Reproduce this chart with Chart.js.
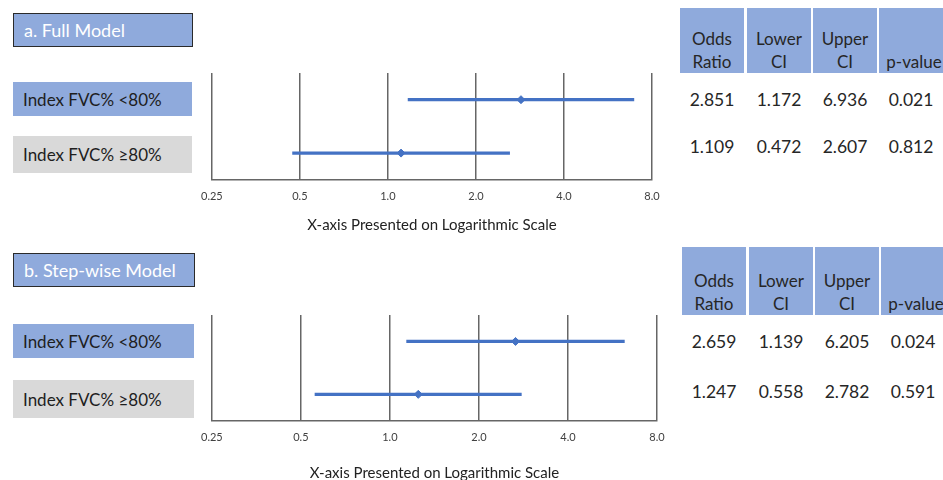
<!DOCTYPE html>
<html>
<head>
<meta charset="utf-8">
<script src="https://cdn.jsdelivr.net/npm/chart.js@4.4.1/dist/chart.umd.min.js"></script>
<style>
  body { margin: 0; width: 943px; height: 480px; overflow: hidden; background: #fff; font-family: Lato, "Open Sans", sans-serif; color: #222; }
  .box { position: absolute; box-sizing: border-box; display: flex; align-items: center; padding-left: 10px; white-space: nowrap; }
  .title { background: #8faadc; border: 1.5px solid #2a2a2a; color: #fff; font-size: 18px; }
  .row-blue { background: #8faadc; font-size: 17px; color: #1e1e1e; }
  .row-grey { background: #d9d9d9; font-size: 17px; color: #1e1e1e; }
  .hcell { position: absolute; box-sizing: border-box; background: #8faadc; display: flex; align-items: flex-end; justify-content: center; text-align: center; font-size: 17px; line-height: 23px; padding-bottom: 0; color: #262626; white-space: nowrap; }
  .vcell { position: absolute; text-align: center; font-size: 17.5px; line-height: 20px; color: #262626; }
  .plot { position: absolute; }
</style>
</head>
<body>
<div id="page"></div>
<div class="plot" style="left:191px; top:63px; width:481px; height:175px;"><canvas id="chartA"></canvas></div>
<div class="plot" style="left:191px; top:305px; width:486px; height:181px;"><canvas id="chartB"></canvas></div>
<script>
// data
var rowLabels = ['Index FVC% <80%', 'Index FVC% \u226580%'];
var fullOR    = [2.851, 1.109];
var fullLower = [1.172, 0.472];
var fullUpper = [6.936, 2.607];
var fullP     = ['0.021', '0.812'];
var stepOR    = [2.659, 1.247];
var stepLower = [1.139, 0.558];
var stepUpper = [6.205, 2.782];
var stepP     = ['0.024', '0.591'];
var tickValues = [0.25, 0.5, 1, 2, 4, 8];
var tickLabels = ['0.25', '0.5', '1.0', '2.0', '4.0', '8.0'];
var headers = ['Odds<br>Ratio', 'Lower<br>CI', 'Upper<br>CI', 'p-value'];

var page = document.getElementById('page');

function addDiv(cls, style, html) {
    var d = document.createElement('div');
    d.className = cls;
    d.style.cssText = style;
    d.innerHTML = html;
    page.appendChild(d);
}

// left side boxes
function panelBoxes(title, top, rowTops, rowHeights, width) {
    addDiv('box title', 'left:13px; top:' + top + 'px; width:' + width + 'px; height:34px;', title);
    addDiv('box row-blue', 'left:13px; top:' + rowTops[0] + 'px; width:' + (width - 1) + 'px; height:' + rowHeights[0] + 'px;', rowLabels[0].replace('<', '&lt;'));
    addDiv('box row-grey', 'left:13px; top:' + rowTops[1] + 'px; width:' + (width - 1) + 'px; height:' + rowHeights[1] + 'px;', rowLabels[1]);
}
panelBoxes('a. Full Model', 13, [82, 136], [34, 37], 180);
panelBoxes('b. Step-wise Model', 253, [324, 380], [34, 38], 182);

// right side tables
function panelTable(left, top, height, rowYs, cols) {
    var xs = [0, 67, 133, 199];
    for (var i = 0; i < headers.length; i++) {
        addDiv('hcell', 'left:' + (left + xs[i]) + 'px; top:' + top + 'px; width:' + (i == 3 ? 70 : 64) + 'px; height:' + height + 'px;', headers[i]);
    }
    for (var r = 0; r < 2; r++) {
        for (var c = 0; c < cols.length; c++) {
            var v = typeof cols[c][r] == 'number' ? cols[c][r].toFixed(3) : cols[c][r];
            addDiv('vcell', 'left:' + (left + xs[c]) + 'px; top:' + (rowYs[r] - 10) + 'px; width:64px;', v);
        }
    }
}
panelTable(680, 8, 65, [100, 147], [fullOR, fullLower, fullUpper, fullP]);
panelTable(682, 247, 68, [342, 392], [stepOR, stepLower, stepUpper, stepP]);

// forest plots
function forestChart(id, orVals, lower, upper, titlePad) {
    var ctx = document.getElementById(id).getContext('2d');
    return new Chart(ctx, {
        type: 'bar',
        data: {
            labels: rowLabels,
            datasets: [
                {
                    type: 'line',
                    data: orVals,
                    showLine: false,
                    pointStyle: 'rectRot',
                    pointRadius: 4,
                    backgroundColor: '#4472c4',
                    borderColor: '#4472c4',
                    borderWidth: 1,
                    order: 0
                },
                {
                    data: lower.map(function(l, i) { return [l, upper[i]]; }),
                    backgroundColor: '#4472c4',
                    barThickness: 2.5,
                    borderWidth: 0,
                    order: 1
                }
            ]
        },
        options: {
            indexAxis: 'y',
            responsive: true,
            maintainAspectRatio: false,
            animation: false,
            layout: { padding: { left: 20, right: 20, top: 10, bottom: 0 } },
            scales: {
                x: {
                    type: 'logarithmic',
                    min: 0.25,
                    max: 8,
                    afterBuildTicks: function(scale) {
                        scale.ticks = tickValues.map(function(v) { return { value: v }; });
                    },
                    grid: { color: '#666666', lineWidth: 1.5, drawTicks: false },
                    border: { display: true, color: '#666666', width: 1.5 },
                    ticks: {
                        autoSkip: false,
                        maxRotation: 0,
                        padding: 10,
                        color: '#404040',
                        font: { family: 'Lato', size: 11 },
                        callback: function(value, index) { return tickLabels[index]; }
                    },
                    title: {
                        display: true,
                        text: 'X-axis Presented on Logarithmic Scale',
                        color: '#222',
                        font: { family: 'Lato', size: 15 },
                        padding: { top: titlePad, bottom: 4 }
                    }
                },
                y: {
                    type: 'category',
                    display: false,
                    offset: true
                }
            },
            plugins: {
                legend: { display: false },
                tooltip: { enabled: false }
            }
        }
    });
}

forestChart('chartA', fullOR, fullLower, fullUpper, 3);
forestChart('chartB', stepOR, stepLower, stepUpper, 10);
</script>
</body>
</html>
